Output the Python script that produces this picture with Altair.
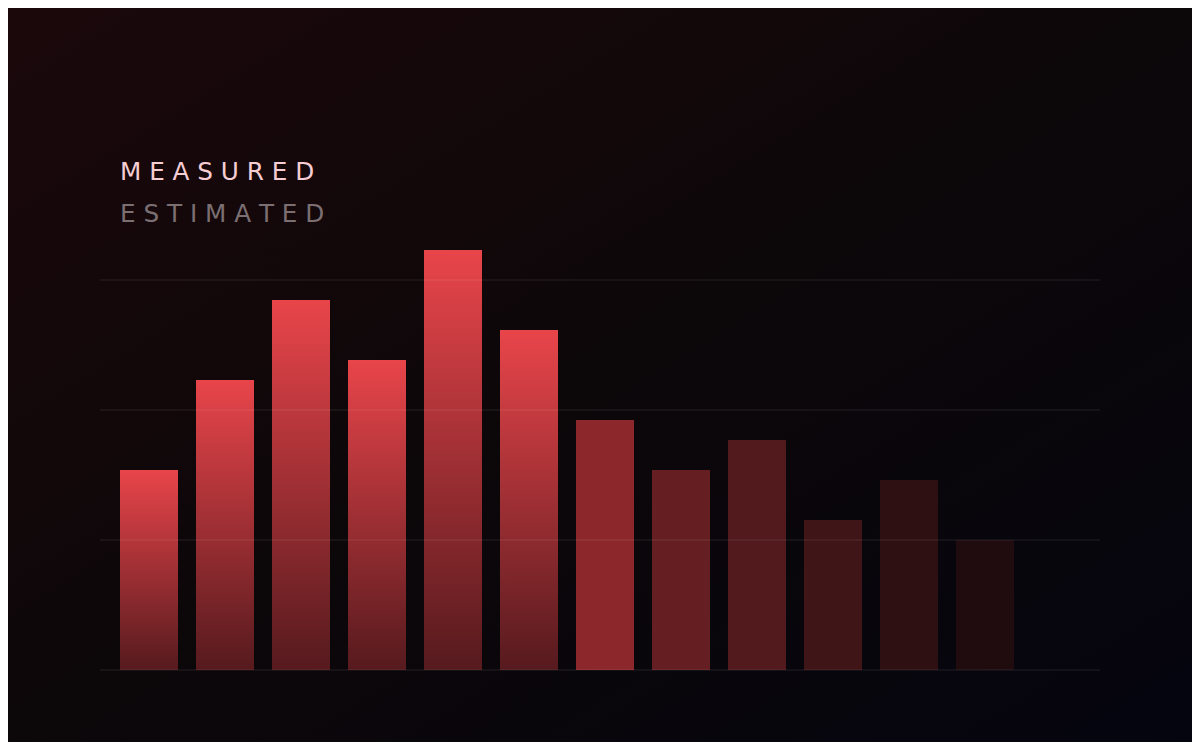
import altair as alt
import pandas as pd

# ---- data ----
categories = ["B01", "B02", "B03", "B04", "B05", "B06", "B07", "B08", "B09", "B10", "B11", "B12"]
values = [20, 29, 37, 31, 42, 34, 25, 20, 23, 15, 19, 13]
kinds = ["measured"] * 6 + ["estimated"] * 6
est_colors = ["#8c282b", "#651f22", "#521a1d", "#3f1517", "#2f1012", "#200c0f"]
grid_values = [0, 13, 26, 39]
legend_labels = ["M E A S U R E D", "E S T I M A T E D"]

df = pd.DataFrame({"cat": categories, "value": values, "kind": kinds})
grid_df = pd.DataFrame({"g": grid_values})

W, H = 1184, 734

x_enc = alt.X(
    "cat:N",
    scale=alt.Scale(domain=categories, range=[112, 1006], paddingInner=18 / 76, paddingOuter=0),
    axis=None,
)
y_scale = alt.Scale(domain=[0, 39], range=[662, 272], zero=True, nice=False)

bg = alt.Chart(pd.DataFrame({"a": [0]})).mark_rect(
    fill={
        "gradient": "linear",
        "x1": 0, "y1": 0, "x2": 1, "y2": 1,
        "stops": [
            {"offset": 0, "color": "#1b080b"},
            {"offset": 0.5, "color": "#0c0709"},
            {"offset": 1, "color": "#05050f"},
        ],
    }
).encode(x=alt.value(0), x2=alt.value(W), y=alt.value(0), y2=alt.value(H))

measured = alt.Chart(df).transform_filter(alt.datum.kind == "measured").mark_bar(
    fill={
        "gradient": "linear",
        "x1": 0, "y1": 0, "x2": 0, "y2": 1,
        "stops": [
            {"offset": 0, "color": "#e8454a"},
            {"offset": 1, "color": "#561a1e"},
        ],
    }
).encode(x=x_enc, y=alt.Y("value:Q", scale=y_scale, axis=None))

estimated = alt.Chart(df).transform_filter(alt.datum.kind == "estimated").mark_bar().encode(
    x=x_enc,
    y=alt.Y("value:Q", scale=y_scale, axis=None),
    color=alt.Color("cat:N", scale=alt.Scale(domain=categories[6:], range=est_colors), legend=None),
)

grid = alt.Chart(grid_df).mark_rule(color="#ffffff", opacity=0.1, strokeWidth=1).encode(
    y=alt.Y("g:Q", scale=y_scale, axis=None),
    x=alt.value(92),
    x2=alt.value(1092),
)

t1 = alt.Chart(pd.DataFrame({"t": [legend_labels[0]]})).mark_text(
    align="left", baseline="alphabetic", font="DejaVu Sans", fontSize=24.7, color="#f5cdd2"
).encode(text="t:N", x=alt.value(112), y=alt.value(171.5))

t2 = alt.Chart(pd.DataFrame({"t": [legend_labels[1]]})).mark_text(
    align="left", baseline="alphabetic", font="DejaVu Sans", fontSize=24.7, color="#7b6f72"
).encode(text="t:N", x=alt.value(112), y=alt.value(213.5))

chart = alt.layer(bg, measured, estimated, grid, t1, t2).properties(
    width=W, height=H,
    autosize=alt.AutoSizeParams(type="none"),
    padding=0,
    background="#0c0709",
).configure_view(stroke=None)

chart.save("out.html", embed_options={"renderer": "svg", "actions": False})
